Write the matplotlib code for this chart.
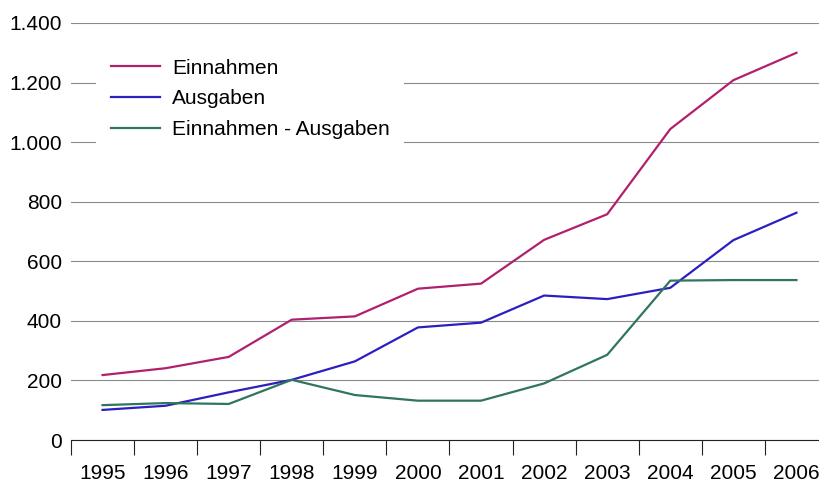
import matplotlib
matplotlib.use("Agg")
import matplotlib.pyplot as plt
from matplotlib.ticker import FixedLocator, FuncFormatter

plt.rcParams['font.family'] = ['Liberation Sans', 'DejaVu Sans']

years = ['1995', '1996', '1997', '1998', '1999', '2000',
         '2001', '2002', '2003', '2004', '2005', '2006']
einnahmen = [218, 241, 279, 404, 415, 508, 525, 672, 758, 1044, 1208, 1300]
ausgaben = [101, 115, 160, 202, 264, 378, 394, 485, 473, 511, 671, 763]
differenz = [117, 124, 121, 202, 151, 132, 132, 190, 286, 535, 537, 537]
labels = ['Einnahmen', 'Ausgaben', 'Einnahmen - Ausgaben']
colors = ['#b0206f', '#2c1fc0', '#2f7560']

W, H = 820, 482
fs = 15
fig = plt.figure(figsize=(W / 100, H / 100), dpi=100)
# axes run a bit past the right edge, like the original
ax = fig.add_axes([71 / W, 42 / H, 757 / W, 417 / H])

x = range(len(years))
for vals, lab, col in zip([einnahmen, ausgaben, differenz], labels, colors):
    ax.plot(x, vals, color=col, lw=1.6, label=lab, solid_joinstyle='miter')

ax.set_xlim(-0.5, len(years) - 0.5)
ax.set_ylim(0, 1400)

# y axis: gridlines only, german thousands separator
ax.set_yticks(range(0, 1401, 200))
ax.yaxis.set_major_formatter(FuncFormatter(lambda v, p: f'{int(v):,}'.replace(',', '.')))
ax.tick_params(axis='y', length=0, pad=6.5, labelsize=fs)
ax.grid(axis='y', color='#8a8a8a', lw=0.8)
ax.set_axisbelow(True)

# x axis: ticks at category boundaries, labels at centers
ax.xaxis.set_major_locator(FixedLocator([i - 0.5 for i in range(len(years) + 1)]))
ax.xaxis.set_minor_locator(FixedLocator(list(x)))
ax.set_xticklabels([], minor=False)
ax.set_xticklabels(years, minor=True)
ax.tick_params(axis='x', which='major', length=11, width=0.8, color='#222222', direction='out')
ax.tick_params(axis='x', which='minor', length=0, pad=17, labelsize=fs)

for s in ['left', 'right', 'top']:
    ax.spines[s].set_visible(False)
ax.spines['bottom'].set_color('#222222')
ax.spines['bottom'].set_linewidth(0.8)

leg = fig.legend(loc='upper left', bbox_to_anchor=(96 / W, 1 - 44 / H),
                 frameon=True, fontsize=fs, handlelength=2.36, handletextpad=0.58,
                 labelspacing=0.56, borderpad=0.7, borderaxespad=0)
leg.get_frame().set_facecolor('white')
leg.get_frame().set_edgecolor('none')
leg.get_frame().set_alpha(1)
for line in leg.get_lines():
    line.set_linewidth(1.6)

fig.savefig('out.png', dpi=100)
